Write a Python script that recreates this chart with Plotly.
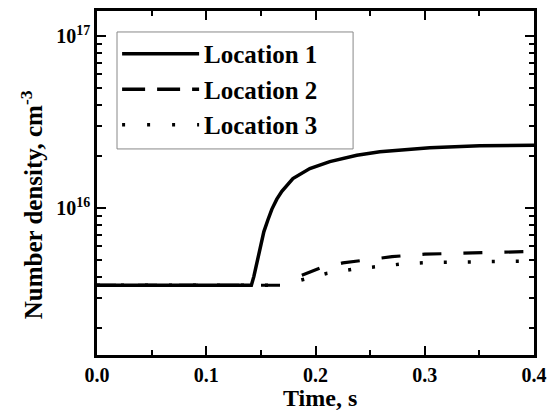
import plotly.graph_objects as go

# ---- data ----
t1 = [0.0, 0.1413, 0.1436, 0.1463, 0.1491, 0.1527, 0.1564, 0.1601, 0.1646, 0.1692,
      0.1793, 0.1948, 0.2131, 0.2378, 0.2589, 0.3046, 0.3503, 0.40]
n1 = [3.56e15, 3.56e15, 4.01e15, 4.83e15, 5.89e15, 7.28e15, 8.53e15, 9.87e15, 1.127e16,
      1.253e16, 1.486e16, 1.698e16, 1.864e16, 2.028e16, 2.127e16, 2.244e16, 2.303e16, 2.317e16]

t2 = [0.0, 0.17, None, 0.1875, 0.205, 0.225, 0.245, 0.27, 0.30, 0.35, 0.40]
n2 = [3.56e15, 3.56e15, None, 4.07e15, 4.50e15, 4.80e15, 5.00e15, 5.22e15, 5.40e15, 5.52e15, 5.60e15]

t3 = [0.0, 0.17, None, 0.187, 0.21, 0.235, 0.26, 0.28, 0.30, 0.35, 0.40]
n3 = [3.56e15, 3.56e15, None, 3.82e15, 4.17e15, 4.42e15, 4.62e15, 4.74e15, 4.82e15, 4.87e15, 4.93e15]

names = ["Location 1", "Location 2", "Location 3"]
x_ticks = [0.0, 0.1, 0.2, 0.3, 0.4]
y_ticks = [1e16, 1e17]
y_ticktext = ["10<sup>16</sup>", "10<sup>17</sup>"]

FONT = "Liberation Serif"
y_minor = [m * 10 ** e for e in (15, 16) for m in range(2, 10)]

fig = go.Figure()
# data traces (drawn back to front so Location 1 sits on top)
fig.add_trace(go.Scatter(x=t3, y=n3, mode="lines", showlegend=False, connectgaps=False,
                         line=dict(color="black", width=3.5, dash="3px,21px")))
fig.add_trace(go.Scatter(x=t2, y=n2, mode="lines", showlegend=False, connectgaps=False,
                         line=dict(color="black", width=3.2, dash="19px,22px")))
fig.add_trace(go.Scatter(x=t1, y=n1, mode="lines", showlegend=False,
                         line=dict(color="black", width=3.5)))
# legend entries
leg_dash = ["solid", "23px,12px", "3px,22px"]
for i, (nm, d) in enumerate(zip(names, leg_dash)):
    fig.add_trace(go.Scatter(x=[None], y=[None], mode="lines", name=nm, legendrank=i + 1,
                             line=dict(color="black", width=3.5, dash=d)))

fig.update_layout(
    width=558, height=412,
    margin=dict(l=97, r=24, t=8, b=57),
    paper_bgcolor="white", plot_bgcolor="white",
    font=dict(family=FONT, color="black", size=20, weight="bold"),
    showlegend=True,
    legend=dict(x=0.046, y=0.942, xanchor="left", yanchor="top",
                bgcolor="rgba(0,0,0,0)", borderwidth=0,
                font=dict(family=FONT, size=25, weight="bold", color="black"),
                itemwidth=77, tracegroupgap=0),
    shapes=[dict(type="rect", xref="paper", yref="paper",
                 x0=0.0458, x1=0.586, y0=0.599, y1=0.939,
                 line=dict(color="#888888", width=1), fillcolor="white", layer="above")],
    xaxis=dict(range=[0, 0.4], tickvals=x_ticks, tickformat=".1f",
               showgrid=False, zeroline=False,
               showline=True, linecolor="black", linewidth=2.5, mirror="allticks",
               ticks="inside", ticklen=9, tickwidth=2, tickcolor="black",
               tickfont=dict(size=20, family=FONT, weight="bold"),
               minor=dict(dtick=0.05, ticks="inside", ticklen=5, tickwidth=2, tickcolor="black", showgrid=False)),
    yaxis=dict(type="log", range=[15.146, 17.146], tickvals=y_ticks, ticktext=y_ticktext,
               showgrid=False, zeroline=False,
               showline=True, linecolor="black", linewidth=2.5, mirror="allticks",
               ticks="inside", ticklen=9, tickwidth=2, tickcolor="black",
               tickfont=dict(size=20, family=FONT, weight="bold"),
               minor=dict(tickvals=y_minor, ticks="inside", ticklen=5, tickwidth=2, tickcolor="black", showgrid=False)),
    annotations=[
        dict(text="Time, s", xref="paper", yref="paper", x=0.51, y=-0.124,
             xanchor="center", yanchor="middle", showarrow=False,
             font=dict(family=FONT, size=24, weight="bold")),
        dict(text="Number density, cm<sup>-3</sup>", xref="paper", yref="paper",
             x=-0.149, y=0.438, xanchor="center", yanchor="middle", textangle=-90,
             showarrow=False, font=dict(family=FONT, size=25, weight="bold")),
    ],
)

fig.write_html("out.html", config={"displayModeBar": False},
               post_script="document.body.style.margin='0';")
